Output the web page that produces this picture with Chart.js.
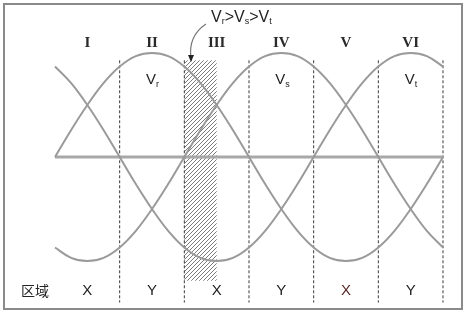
<!DOCTYPE html>
<html>
<head>
<meta charset="utf-8">
<script src="https://cdn.jsdelivr.net/npm/chart.js@4"></script>
<style>
  body { margin: 0; background: #fff; }
  #wrap { width: 468px; height: 316px; position: relative; }
</style>
</head>
<body>
<div id="wrap"><canvas id="phaseChart"></canvas></div>
<script>
// phase angle (degrees), read every 15 deg
const angles = [0, 15, 30, 45, 60, 75, 90, 105, 120, 135, 150, 165, 180,
                195, 210, 225, 240, 255, 270, 285, 300, 315, 330, 345, 360];
const vr = [0, 0.26, 0.5, 0.71, 0.87, 0.97, 1, 0.97, 0.87, 0.71, 0.5, 0.26, 0,
            -0.26, -0.5, -0.71, -0.87, -0.97, -1, -0.97, -0.87, -0.71, -0.5, -0.26, 0];
const vs = [-0.87, -0.97, -1, -0.97, -0.87, -0.71, -0.5, -0.26, 0, 0.26, 0.5, 0.71, 0.87,
            0.97, 1, 0.97, 0.87, 0.71, 0.5, 0.26, 0, -0.26, -0.5, -0.71, -0.87];
const vt = [0.87, 0.71, 0.5, 0.26, 0, -0.26, -0.5, -0.71, -0.87, -0.97, -1, -0.97, -0.87,
            -0.71, -0.5, -0.26, 0, 0.26, 0.5, 0.71, 0.87, 0.97, 1, 0.97, 0.87];

const boundaries = [60, 120, 180, 240, 300, 360];
const regionNames = ['I', 'II', 'III', 'IV', 'V', 'VI'];
const regionCenters = [30, 90, 150, 210, 270, 330];
const zoneLabels = ['X', 'Y', 'X', 'Y', 'X', 'Y'];
const peakLabels = [{ at: 90, sub: 'r' }, { at: 210, sub: 's' }, { at: 330, sub: 't' }];
const hatchSpan = [120, 150];

const toPoints = ys => angles.map((a, i) => ({ x: a, y: ys[i] }));

const curveStyle = {
    borderColor: '#9a9a9a',
    borderWidth: 2,
    pointRadius: 0,
    tension: 0.4,
    fill: false
};

const datasets = [
    { label: 'Vr', data: toPoints(vr), ...curveStyle },
    { label: 'Vs', data: toPoints(vs), ...curveStyle },
    { label: 'Vt', data: toPoints(vt), ...curveStyle },
    {
        label: 'axis',
        data: [{ x: 0, y: 0 }, { x: 360, y: 0 }],
        borderColor: '#a8a8a8', borderWidth: 3, pointRadius: 0
    }
];

boundaries.forEach(b => {
    datasets.push({
        label: 'b' + b,
        data: [{ x: b, y: 0.93 }, { x: b, y: -1.4 }],
        borderColor: '#3a3a3a', borderWidth: 1, borderDash: [3, 2], pointRadius: 0
    });
});

function makeHatch(ctx) {
    const c = document.createElement('canvas');
    c.width = 4; c.height = 4;
    const g = c.getContext('2d');
    g.strokeStyle = '#7c7c7c';
    g.lineWidth = 1;
    g.beginPath();
    g.moveTo(0, 4); g.lineTo(4, 0);
    g.moveTo(-1, 1); g.lineTo(1, -1);
    g.moveTo(3, 5); g.lineTo(5, 3);
    g.stroke();
    return ctx.createPattern(c, 'repeat');
}

const decor = {
    id: 'decor',
    beforeDatasetsDraw(chart) {
        const { ctx, scales: { x, y } } = chart;
        ctx.save();
        ctx.fillStyle = makeHatch(ctx);
        const x0 = x.getPixelForValue(hatchSpan[0]);
        const x1 = x.getPixelForValue(hatchSpan[1]);
        const y0 = y.getPixelForValue(0.93);
        const y1 = y.getPixelForValue(-1.19);
        ctx.fillRect(x0, y0, x1 - x0, y1 - y0);
        ctx.restore();
    },
    afterDatasetsDraw(chart) {
        const { ctx, scales: { x, y } } = chart;
        ctx.save();
        // frame
        ctx.strokeStyle = '#8a8a8a';
        ctx.lineWidth = 2;
        ctx.strokeRect(4, 4, 458, 305);

        ctx.textAlign = 'center';
        ctx.textBaseline = 'middle';
        ctx.fillStyle = '#2a2a2a';

        ctx.font = 'bold 15px "Liberation Serif"';
        regionNames.forEach((n, i) => {
            ctx.fillText(n, x.getPixelForValue(regionCenters[i]), y.getPixelForValue(1.096));
        });

        ctx.font = '15px "Liberation Sans"';
        zoneLabels.forEach((n, i) => {
            ctx.fillStyle = i === 4 ? '#5a2a2a' : '#222';
            ctx.fillText(n, x.getPixelForValue(regionCenters[i]), y.getPixelForValue(-1.29));
        });
        ctx.fillStyle = '#222';
        ctx.font = '14px "Noto Sans CJK SC"';
        ctx.fillText('区域', 35, y.getPixelForValue(-1.29));

        // V with subscript
        const vsub = (px, py, sub, big, small) => {
            ctx.textAlign = 'left';
            ctx.font = big + 'px "Liberation Sans"';
            ctx.fillText('V', px, py);
            const w = ctx.measureText('V').width;
            ctx.font = small + 'px "Liberation Sans"';
            ctx.fillText(sub, px + w, py + 4);
            return w + ctx.measureText(sub).width;
        };
        peakLabels.forEach(p => {
            vsub(x.getPixelForValue(p.at) - 6, y.getPixelForValue(0.74), p.sub, 15, 9);
        });

        // annotation
        let px = 211;
        const py = 18;
        ['r', 's', 't'].forEach((s, i) => {
            px += vsub(px, py, s, 16, 9);
            if (i < 2) {
                ctx.font = '16px "Liberation Sans"';
                ctx.fillText('>', px, py);
                px += ctx.measureText('>').width;
            }
        });

        // curved arrow
        ctx.strokeStyle = '#777';
        ctx.lineWidth = 1.2;
        ctx.beginPath();
        ctx.moveTo(206, 24);
        ctx.quadraticCurveTo(188, 36, 191, 58);
        ctx.stroke();
        ctx.fillStyle = '#222';
        ctx.beginPath();
        ctx.moveTo(188, 55);
        ctx.lineTo(194, 55);
        ctx.lineTo(191, 62);
        ctx.closePath();
        ctx.fill();
        ctx.restore();
    }
};

new Chart(document.getElementById('phaseChart'), {
    type: 'line',
    data: { datasets },
    options: {
        responsive: true,
        maintainAspectRatio: false,
        animation: false,
        layout: { padding: 0 },
        plugins: { legend: { display: false }, tooltip: { enabled: false } },
        scales: {
            x: { type: 'linear', min: -51.03, max: 383.2, display: false },
            y: { min: -1.529, max: 1.51, display: false }
        }
    },
    plugins: [decor]
});
</script>
</body>
</html>
